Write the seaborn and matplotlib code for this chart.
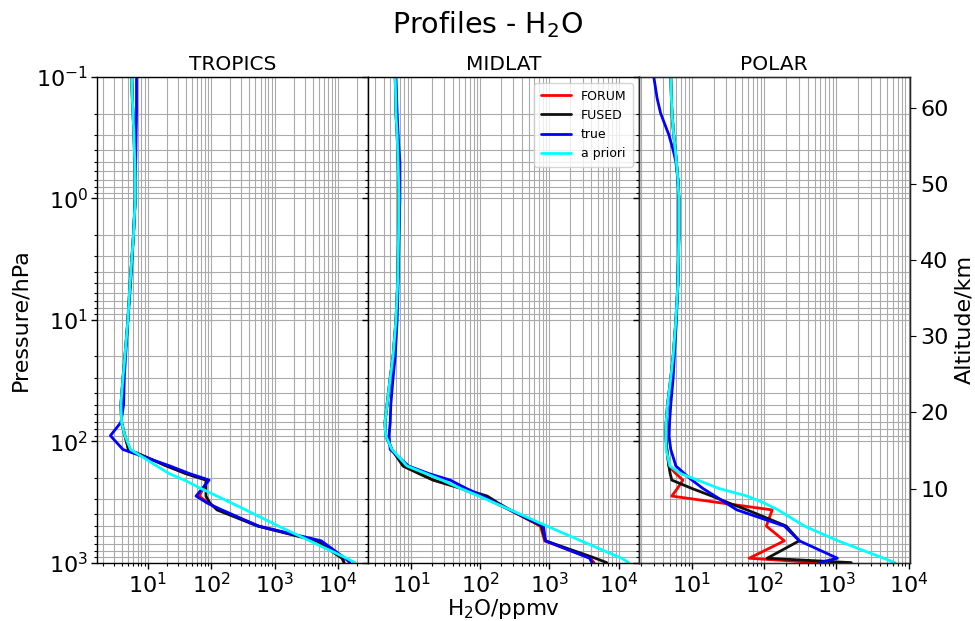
import matplotlib
matplotlib.use("Agg")
import numpy as np
import pandas as pd
import matplotlib.pyplot as plt
from matplotlib.lines import Line2D
import seaborn as sns

# ---------------- data ----------------
pressure = [0.1, 0.15, 0.2, 0.3, 0.4, 0.5, 0.7, 1, 2, 5, 10, 20, 30, 50, 70, 90, 117,
            160, 185, 209, 245, 283, 323, 368, 500, 661, 920, 1000]

regions = ["TROPICS", "MIDLAT", "POLAR"]
series = ["FORUM", "FUSED", "true", "a priori"]
colors = ["red", "#111111", "blue", "cyan"]

tropics_apriori = [5.6, 5.75, 5.9, 6.1, 6.2, 6.3, 6.4, 6.4, 6.0, 5.3, 4.9, 4.4, 4.1, 3.8, 3.9, 4.4, 5.4,
                   14, 22, 38, 69, 124, 210, 352, 1150, 3560, 13600, 18450]
tropics_true = [6.7, 6.7, 6.7, 6.6, 6.55, 6.5, 6.4, 6.4, 6.0, 5.4, 4.9, 4.5, 4.3, 4.2, 3.8, 2.6, 4.1,
                22.6, 46, 93, 73, 58, 87, 148, 560, 5400, 12850, 15300]
tropics_fused = [5.6, 5.75, 5.9, 6.1, 6.2, 6.3, 6.4, 6.4, 6.0, 5.3, 4.9, 4.4, 4.1, 3.8, 3.9, 4.4, 5.0,
                 20, 40, 83, 83, 83, 96, 124, 540, 4500, 11500, 12400]
tropics_forum = [5.6, 5.75, 5.9, 6.1, 6.2, 6.3, 6.4, 6.4, 6.0, 5.3, 4.9, 4.4, 4.1, 3.8, 3.9, 4.4, 5.0,
                 20, 41, 88, 75, 65, 90, 135, 560, 4700, 11800, 12400]

midlat_apriori = [5.9, 6.0, 6.05, 6.3, 6.4, 6.5, 6.6, 6.7, 6.6, 6.4, 6.05, 5.5, 5.0, 4.5, 4.2, 4.3, 5.3,
                  8.75, 16.5, 28, 52, 96, 162, 274, 920, 2850, 11000, 14000]
midlat_true = [6.05, 6.2, 6.3, 6.5, 6.7, 6.9, 6.9, 6.9, 6.7, 6.5, 6.3, 5.9, 5.5, 5.1, 5.0, 4.8, 5.0,
               9.2, 18.2, 36.7, 63, 107, 170, 270, 818, 875, 3800, 4100]
midlat_fused = [5.9, 6.0, 6.05, 6.3, 6.4, 6.5, 6.6, 6.7, 6.6, 6.4, 6.05, 5.5, 5.0, 4.5, 4.2, 4.3, 5.3,
                7.65, 13, 20.8, 55, 126, 182, 270, 766, 875, 4600, 6700]
midlat_forum = [5.9, 6.0, 6.05, 6.3, 6.4, 6.5, 6.6, 6.7, 6.6, 6.4, 6.05, 5.5, 5.0, 4.5, 4.2, 4.3, 5.3,
                7.8, 13.5, 21, 52, 100, 165, 265, 740, 850, 3900, 4400]

polar_apriori = [5.1, 5.2, 5.3, 5.6, 5.9, 6.1, 6.4, 6.6, 6.6, 6.4, 6.0, 5.5, 5.1, 4.6, 4.4, 4.35, 4.4,
                 4.95, 7.0, 12, 23.7, 58, 100, 156, 360, 1050, 4500, 6400]
polar_true = [2.97, 3.3, 3.7, 4.8, 5.5, 6.0, 6.4, 6.6, 6.6, 6.4, 6.1, 5.7, 5.5, 5.1, 4.9, 4.8, 5.1,
              6.0, 7.9, 10, 14.2, 20.9, 29.6, 42, 190, 306, 1030, 580]
polar_fused = [5.1, 5.2, 5.3, 5.6, 5.9, 6.1, 6.4, 6.6, 6.6, 6.4, 6.0, 5.5, 5.1, 4.6, 4.4, 4.35, 4.5,
               4.8, 5.0, 5.27, 10, 18.9, 32.6, 58, 202, 306, 110, 1600]
polar_forum = [5.1, 5.2, 5.3, 5.6, 5.9, 6.1, 6.4, 6.6, 6.6, 6.4, 6.0, 5.5, 5.1, 4.6, 4.4, 4.35, 4.5,
               4.8, 6.0, 7.5, 6.3, 5.27, 26, 129, 107, 190, 62, 545]

altitude_ticks = [10, 20, 30, 40, 50, 60]

profiles = {
    "TROPICS": [tropics_forum, tropics_fused, tropics_true, tropics_apriori],
    "MIDLAT": [midlat_forum, midlat_fused, midlat_true, midlat_apriori],
    "POLAR": [polar_forum, polar_fused, polar_true, polar_apriori],
}

rows = []
for reg in regions:
    for s, vals in zip(series, profiles[reg]):
        for p, v in zip(pressure, vals):
            rows.append({"region": reg, "series": s, "pressure": p, "value": v})
df = pd.DataFrame(rows)

# ---------------- plot ----------------
sns.set_style("ticks")
plt.rcParams["font.family"] = ["DejaVu Sans"]
plt.rcParams["text.color"] = "black"
plt.rcParams["axes.labelcolor"] = "black"
plt.rcParams["xtick.color"] = "black"
plt.rcParams["ytick.color"] = "black"

fig, axes = plt.subplots(1, 3, sharey=True, figsize=(9.75, 6.21), dpi=100)
fig.subplots_adjust(left=0.0995, right=0.933, top=0.876, bottom=0.094, wspace=0)

xlims = {"TROPICS": (1.6, 29400), "MIDLAT": (2.38, 19500), "POLAR": (1.84, 10300)}
palette = dict(zip(series, colors))

for ax, reg in zip(axes, regions):
    sub = df[df["region"] == reg]
    sns.lineplot(data=sub, x="value", y="pressure", hue="series", hue_order=series,
                 palette=palette, sort=False, estimator=None, lw=2, ax=ax, legend=False)
    ax.set_xscale("log")
    ax.set_yscale("log")
    ax.set_xlim(*xlims[reg])
    ax.grid(True, which="both", color="#aaaaaa", lw=0.8)
    ax.set_axisbelow(True)
    ax.set_title(reg, fontsize=14.5, pad=5)
    ax.set_xlabel("")
    ax.set_ylabel("")
    ax.tick_params(axis="both", which="major", labelsize=16, length=4, width=1,
                   color="black", labelcolor="black", pad=2.5)
    ax.tick_params(axis="both", which="minor", length=2.5, width=0.8, color="black")
    for sp in ax.spines.values():
        sp.set_color("black")
        sp.set_linewidth(1)

axes[0].set_ylim(1000, 0.1)
axes[0].set_ylabel("Pressure/hPa", fontsize=16)
axes[1].set_xlabel("H$_2$O/ppmv", fontsize=15.5, labelpad=0)

handles = [Line2D([0], [0], color=c, lw=2) for c in colors]
axes[1].legend(handles, series, loc="upper right", fontsize=9, frameon=True,
               handlelength=2.4, borderpad=0.5, labelspacing=0.5)

ax2 = axes[2].twinx()
ax2.set_ylim(0.29, 64.04)
ax2.set_yticks(altitude_ticks)
ax2.tick_params(axis="y", labelsize=16, length=4, color="black", labelcolor="black")
ax2.set_ylabel("Altitude/km", fontsize=16)
ax2.grid(False)

fig.suptitle("Profiles - H$_2$O", fontsize=20.5, y=0.985)

fig.savefig("out.png", dpi=100)
